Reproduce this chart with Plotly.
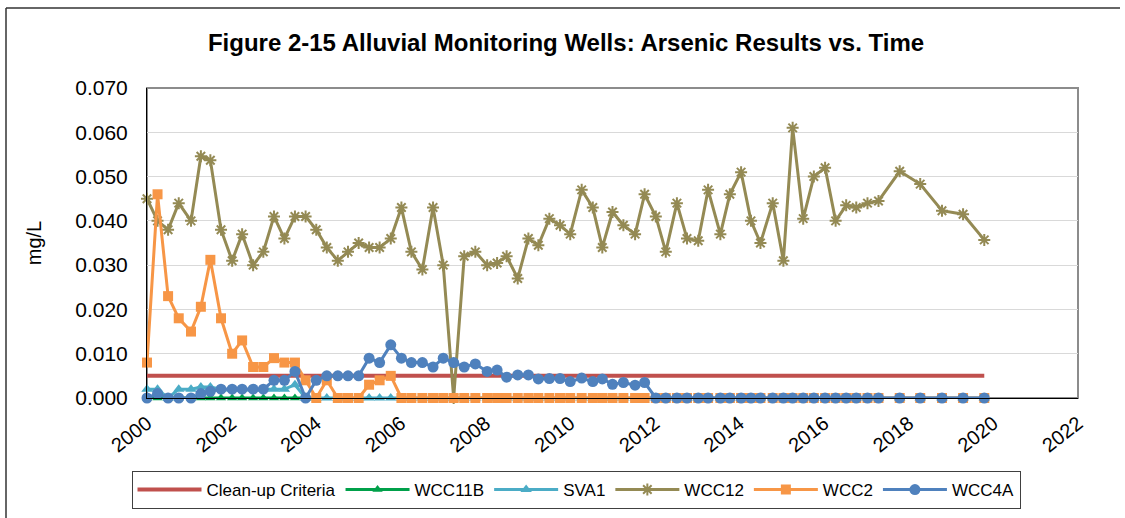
import plotly.graph_objects as go

# sampling dates (quarterly to 2017, then twice a year)
dates = [
	"2000-01-01", "2000-04-01", "2000-07-01", "2000-10-01",
	"2001-01-15", "2001-04-10", "2001-07-01", "2001-10-01",
	"2002-01-05", "2002-04-01", "2002-07-05", "2002-10-01",
	"2003-01-01", "2003-04-01", "2003-07-01", "2003-10-01",
	"2004-01-01", "2004-04-01", "2004-07-05", "2004-10-01",
	"2005-01-01", "2005-04-01", "2005-07-01", "2005-10-05",
	"2006-01-05", "2006-04-01", "2006-07-05", "2006-10-05",
	"2007-01-01", "2007-04-01", "2007-07-01", "2007-10-05",
	"2008-01-15", "2008-04-10", "2008-07-01", "2008-10-05",
	"2009-01-05", "2009-04-01", "2009-07-05", "2009-10-05",
	"2010-01-01", "2010-04-10", "2010-07-15", "2010-10-05",
	"2011-01-01", "2011-04-05", "2011-07-15", "2011-10-05",
	"2012-01-10", "2012-04-05", "2012-07-10", "2012-10-05",
	"2013-01-10", "2013-04-05", "2013-07-20", "2013-10-10",
	"2014-01-15", "2014-04-10", "2014-07-01", "2014-10-15",
	"2015-01-15", "2015-04-05", "2015-07-05", "2015-10-05",
	"2016-01-10", "2016-04-10", "2016-07-10", "2016-10-05",
	"2017-01-10", "2017-04-15", "2017-10-15",
	"2018-04-10", "2018-10-15", "2019-04-15", "2019-10-15",
]

cleanup_dates = ["2000-01-01", "2019-10-15"]
cleanup = [0.005, 0.005]

wcc12 = [
	0.045, 0.040, 0.038, 0.044,
	0.040, 0.0546, 0.0537, 0.038,
	0.031, 0.037, 0.030, 0.033,
	0.041, 0.036, 0.041, 0.041,
	0.038, 0.034, 0.031, 0.033,
	0.035, 0.034, 0.034, 0.036,
	0.043, 0.033, 0.029, 0.043,
	0.030, 0.000, 0.032, 0.033,
	0.030, 0.0305, 0.032, 0.027,
	0.036, 0.0345, 0.0405, 0.039,
	0.037, 0.047, 0.043, 0.034,
	0.042, 0.039, 0.037, 0.046,
	0.041, 0.033, 0.044, 0.036,
	0.0355, 0.047, 0.037, 0.046,
	0.051, 0.040, 0.035, 0.044,
	0.031, 0.061, 0.0405, 0.050,
	0.052, 0.040, 0.0435, 0.043,
	0.044, 0.0445, 0.0512,
	0.0483, 0.0423, 0.0415, 0.0357,
]

wcc2 = [
	0.008, 0.046, 0.023, 0.018,
	0.015, 0.0206, 0.0312, 0.018,
	0.010, 0.013, 0.007, 0.007,
	0.009, 0.008, 0.008, 0.004,
	0.000, 0.004, 0.000, 0.000,
	0.000, 0.003, 0.004, 0.005,
	0.000, 0.000, 0.000, 0.000,
	0.000, 0.000, 0.000, 0.000,
	0.000, 0.000, 0.000, 0.000,
	0.000, 0.000, 0.000, 0.000,
	0.000, 0.000, 0.000, 0.000,
	0.000, 0.000, 0.000, 0.000,
	0.000, 0.000, 0.000, 0.000,
	0.000, 0.000, 0.000, 0.000,
	0.000, 0.000, 0.000, 0.000,
	0.000, 0.000, 0.000, 0.000,
	0.000, 0.000, 0.000, 0.000,
	0.000, 0.000, 0.000,
	0.000, 0.000, 0.000, 0.000,
]

wcc4a = [
	0.000, 0.001, 0.000, 0.000,
	0.000, 0.001, 0.0015, 0.002,
	0.002, 0.002, 0.002, 0.002,
	0.004, 0.004, 0.006, 0.000,
	0.004, 0.005, 0.005, 0.005,
	0.005, 0.009, 0.008, 0.012,
	0.009, 0.008, 0.008, 0.007,
	0.009, 0.008, 0.007, 0.0077,
	0.006, 0.0063, 0.0047, 0.0052,
	0.0052, 0.0043, 0.0044, 0.0044,
	0.0037, 0.0045, 0.0037, 0.0043,
	0.0031, 0.0035, 0.0029, 0.0035,
	0.000, 0.000, 0.000, 0.000,
	0.000, 0.000, 0.000, 0.000,
	0.000, 0.000, 0.000, 0.000,
	0.000, 0.000, 0.000, 0.000,
	0.000, 0.000, 0.000, 0.000,
	0.000, 0.000, 0.000,
	0.000, 0.000, 0.000, 0.000,
]

sva1 = [
	0.002, 0.002, 0.000, 0.002,
	0.002, 0.0025, 0.0025, 0.002,
	0.002, 0.002, 0.002, 0.002,
	0.002, 0.002, 0.003, 0.000,
	0.000, 0.000, 0.000, 0.000,
	0.000, 0.000, 0.000, 0.000,
	0.000, 0.000, 0.000, 0.000,
	0.000, 0.000, 0.000, 0.000,
	0.000, 0.000, 0.000, 0.000,
	0.000, 0.000, 0.000, 0.000,
	0.000, 0.000, 0.000, 0.000,
	0.000, 0.000, 0.000, 0.000,
	0.000, 0.000, 0.000, 0.000,
	0.000, 0.000, 0.000, 0.000,
	0.000, 0.000, 0.000, 0.000,
	0.000, 0.000, 0.000, 0.000,
	0.000, 0.000, 0.000, 0.000,
	0.000, 0.000, 0.000,
	0.000, 0.000, 0.000, 0.000,
]

wcc11b_dates = dates[:16]
wcc11b = [0.000] * 16

FONT = "Arial, Liberation Sans, sans-serif"


def main():
	fig = go.Figure()

	fig.add_trace(go.Scatter(x=cleanup_dates, y=cleanup, name="Clean-up Criteria", mode="lines",
		line=dict(color="#C0504D", width=4)))
	fig.add_trace(go.Scatter(x=wcc11b_dates, y=wcc11b, name="WCC11B", mode="lines+markers",
		line=dict(color="#00A04A", width=3),
		marker=dict(symbol="triangle-up", size=9, color="#00A04A")))
	fig.add_trace(go.Scatter(x=dates, y=sva1, name="SVA1", mode="lines+markers",
		line=dict(color="#4BACC6", width=3),
		marker=dict(symbol="triangle-up", size=10, color="#4BACC6")))
	fig.add_trace(go.Scatter(x=dates, y=wcc12, name="WCC12", mode="lines+markers",
		line=dict(color="#948A54", width=3),
		marker=dict(symbol="asterisk-open", size=10, color="#948A54",
			line=dict(color="#948A54", width=2))))
	fig.add_trace(go.Scatter(x=dates, y=wcc2, name="WCC2", mode="lines+markers",
		line=dict(color="#F79646", width=3),
		marker=dict(symbol="square", size=10, color="#F79646")))
	fig.add_trace(go.Scatter(x=dates, y=wcc4a, name="WCC4A", mode="lines+markers",
		line=dict(color="#4F81BD", width=3),
		marker=dict(symbol="circle", size=11, color="#4F81BD")))

	fig.update_traces(cliponaxis=False)

	fig.update_layout(
		width=1125, height=518,
		margin=dict(l=147, r=47, t=88, b=120),
		paper_bgcolor="white", plot_bgcolor="white",
		font=dict(family=FONT, color="black"),
		title=dict(text="<b>Figure 2-15 Alluvial Monitoring Wells: Arsenic Results vs. Time</b>",
			font=dict(size=24, family=FONT, color="black"),
			x=566 / 1125, xanchor="center", y=1 - 43 / 518, yanchor="middle"),
		xaxis=dict(type="date", range=["2000-01-01", "2022-01-01"],
			tick0="2000-01-01", dtick="M24", tickformat="%Y", tickangle=-38,
			showgrid=False, showline=True, linecolor="black", linewidth=1,
			tickfont=dict(size=20), ticklabelstandoff=5, zeroline=False),
		yaxis=dict(range=[0, 0.07], dtick=0.01, tickformat=".3f",
			showgrid=True, gridcolor="#D9D9D9", gridwidth=1,
			showline=True, linecolor="black", linewidth=1, zeroline=False,
			tickfont=dict(size=21), ticks="", ticklabelstandoff=14,
			title=dict(text="mg/L", font=dict(size=20), standoff=28)),
		legend=dict(orientation="h", xref="container", yref="container",
			x=576 / 1125, xanchor="center", y=1 - 471 / 518, yanchor="top",
			bordercolor="#404040", borderwidth=1, font=dict(size=17),
			itemwidth=64),
		shapes=[
			# gray plot area border
			dict(type="rect", xref="paper", yref="paper", x0=0, x1=1, y0=0, y1=1,
				line=dict(color="#8C8C8C", width=2), layer="below"),
			# outer chart frame (top and left)
			dict(type="line", xref="paper", yref="paper",
				x0=(6 - 147) / 931, x1=(1120 - 147) / 931, y0=(398 - 8) / 310, y1=(398 - 8) / 310,
				line=dict(color="#333333", width=1.5)),
			dict(type="line", xref="paper", yref="paper",
				x0=(6 - 147) / 931, x1=(6 - 147) / 931, y0=(398 - 8) / 310, y1=(398 - 520) / 310,
				line=dict(color="#333333", width=1.5)),
		],
	)

	# page has a default 8px body margin, drop it so the figure sits at 0,0
	fig.write_html("out.html", config={"displayModeBar": False},
		post_script="document.body.style.margin='0px';")


if __name__ == '__main__':
	main()
